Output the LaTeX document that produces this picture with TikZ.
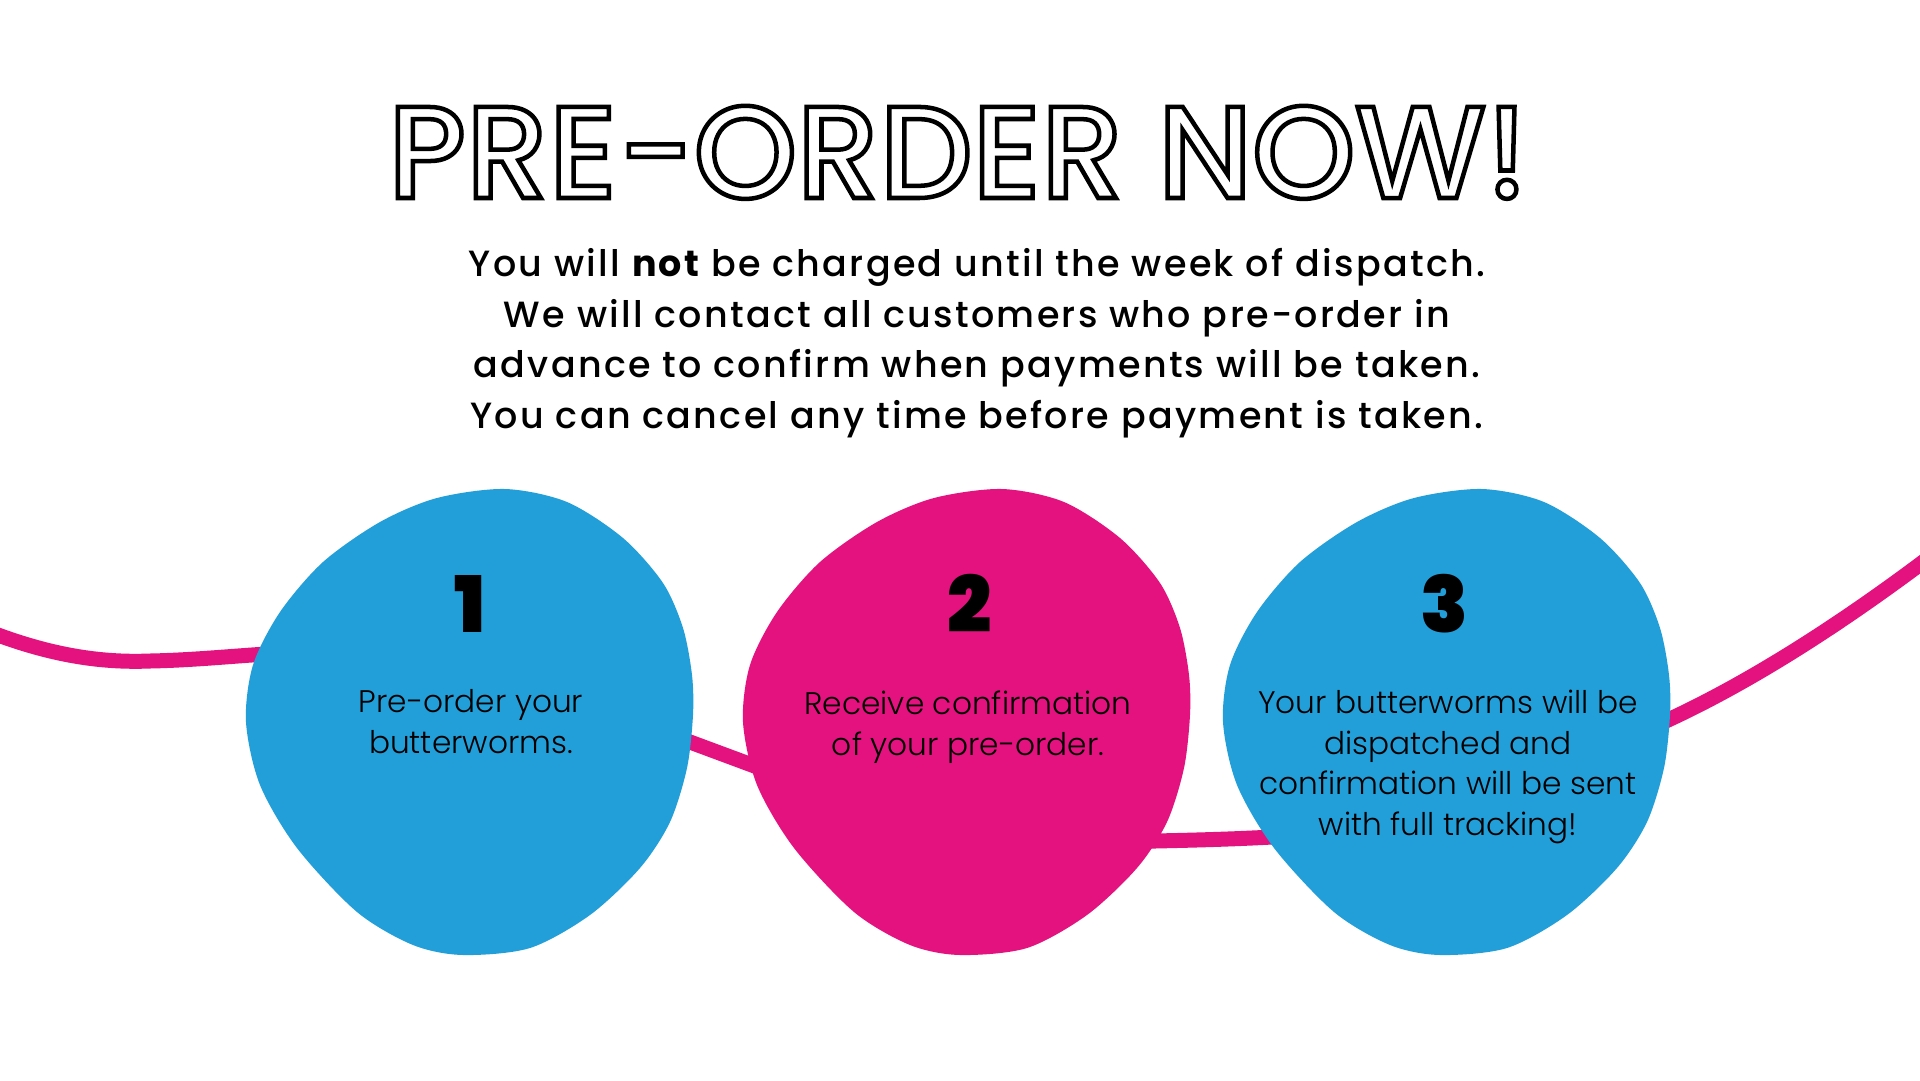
\documentclass[tikz,border=0pt]{standalone}
\usepackage{fontspec}
\setmainfont{Poppins}
\newfontfamily\popreg{Poppins}
\IfFontExistsTF{Poppins Light}{\newfontfamily\poplight{Poppins Light}}{\newfontfamily\poplight{Poppins}}
\IfFontExistsTF{Poppins Medium}{%
  \newfontfamily\popmed{Poppins Medium}[LetterSpace=6.3]%
  \newfontfamily\poptitle{Poppins Medium}}{%
  \newfontfamily\popmed{Poppins}[LetterSpace=6.3, FakeBold=0.7]%
  \newfontfamily\poptitle{Poppins}}
\newfontfamily\popboldsp{Poppins}[LetterSpace=6.3]
\IfFontExistsTF{Poppins Black}{\newfontfamily\popheavy{Poppins Black}}{%
  \IfFontExistsTF{Poppins ExtraBold}{\newfontfamily\popheavy{Poppins ExtraBold}}{\newfontfamily\popheavy{Poppins Bold}}}
\newcommand{\outlinetext}[1]{\special{pdf:literal direct 1 Tr 4.5 w}#1\special{pdf:literal direct 0 Tr}}
\definecolor{blobblue}{HTML}{229FD9}
\definecolor{blobpink}{HTML}{E3127F}
\tikzset{
  blobshape/.style={fill=#1, draw=none},
  numtext/.style={anchor=base, inner sep=0pt, font=\popheavy\fontsize{78}{78}\selectfont, text=black},
  steptext/.style={anchor=base, inner sep=0pt, align=center, font=\poplight\fontsize{31.2}{40.5}\selectfont, text=black},
  subtext/.style={anchor=base, inner sep=0pt, align=center, font=\popmed\fontsize{36.5}{50.5}\selectfont, text=black},
  titletext/.style={anchor=base, inner sep=0pt, font=\poptitle\fontsize{131}{131}\selectfont, text=black},
  worm/.style={draw=blobpink, line width=15pt, line cap=round}
}
\newcommand{\blobpath}{plot[smooth cycle, tension=0.5] coordinates {
 (35,-231) (97,-218) (153,-182) (193,-137) (213,-92) (222,-45) (223,-5) (217,48)
 (200,102) (170,148) (120,195) (60,228) (-7,235) (-57,225) (-113,192) (-173,128)
 (-210,65) (-224,2) (-217,-55) (-190,-108) (-147,-158) (-90,-198) (-33,-222)}}
\begin{document}
\begin{tikzpicture}[x=1pt,y=-1pt]
\fill[white] (0,0) rectangle (1920,1080);
\useasboundingbox (0,0) rectangle (1920,1080);
% connecting line
\coordinate (wstart) at (-10,632);
\coordinate (wend) at (1935,553);
\draw[worm] (wstart) .. controls (50,655) and (100,663) .. (150,661)
  .. controls (200,660) and (240,655) .. (300,652)
  .. controls (450,645) and (550,700) .. (690,742)
  -- (760,768)
  .. controls (900,820) and (1000,842) .. (1155,841)
  .. controls (1200,840) and (1240,839) .. (1290,836)
  .. controls (1450,820) and (1560,770) .. (1668,720)
  .. controls (1750,682) and (1840,625) .. (wend);
% blobs
\begin{scope}[shift={(470,720)}]
  \fill[blobshape=blobblue] \blobpath;
\end{scope}
\begin{scope}[shift={(967,720)}]
  \fill[blobshape=blobpink] \blobpath;
\end{scope}
\begin{scope}[shift={(1447,720)}]
  \fill[blobshape=blobblue] \blobpath;
\end{scope}
% title
\node[titletext] (title) at (958,198) {\outlinetext{PRE-ORDER NOW!}};
% subtitle (base anchor = last line)
\node[subtext] (sub) at (977,428) {You will {\popboldsp\bfseries not} be charged until the week of dispatch.\\
We will contact all customers who pre-order in\\
advance to confirm when payments will be taken.\\
You can cancel any time before payment is taken.};
% numbers
\node[numtext] (n1) at (470,632) {1};
\node[numtext] (n2) at (970,632) {2};
\node[numtext] (n3) at (1444,632) {3};
% step texts (base anchor = last line)
\node[steptext] (s1) at (471,753) {Pre-order your\\butterworms.};
\node[steptext] (s2) at (968,755) {Receive confirmation\\of your pre-order.};
\node[steptext] (s3) at (1448,835) {Your butterworms will be\\dispatched and\\confirmation will be sent\\with full tracking!};
\end{tikzpicture}
\end{document}
